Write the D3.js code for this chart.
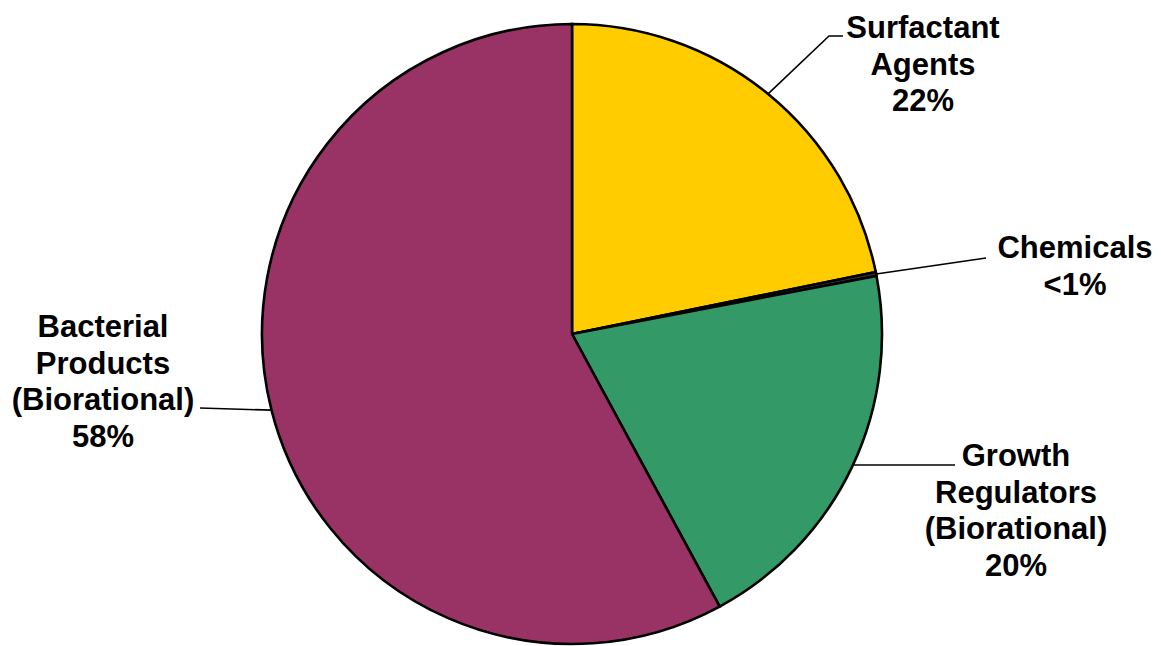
<!DOCTYPE html>
<html>
<head>
<meta charset="utf-8">
<script src="https://cdn.jsdelivr.net/npm/d3@7"></script>
<style>
  html, body { margin: 0; padding: 0; background: #fff; }
  svg { display: block; }
  text { font-family: "Liberation Sans", Arial, sans-serif; font-weight: bold; fill: #000; }
</style>
</head>
<body>
<svg id="chart" width="1161" height="646"></svg>
<script>
// Data
const categories = ["Surfactant Agents", "Chemicals", "Growth Regulators (Biorational)", "Bacterial Products (Biorational)"];
const values = [21.8, 0.2, 20.1, 57.9];
const labelLines = [
  ["Surfactant", "Agents", "22%"],
  ["Chemicals", "<1%"],
  ["Growth", "Regulators", "(Biorational)", "20%"],
  ["Bacterial", "Products", "(Biorational)", "58%"]
];
const colors = ["#FFCC00", "#333333", "#339966", "#993366"];

// Layout
const W = 1161, H = 646;
const cx = 572, cy = 334, R = 310;
const fontSize = 31, lineH = 36.6;
const labelLayout = [
  { x: 923, y: 38, leader: (p) => [p, [829, 36], [843, 36]] },
  { x: 1075, y: 258, leader: (p) => [p, [986, 258]] },
  { x: 1016, y: 466, leader: (p) => [[p[0], 465], [955, 465]] },
  { x: 103, y: 337, leader: (p) => [p, [200, 408]] }
];

const svg = d3.select("#chart");
const g = svg.append("g").attr("transform", `translate(${cx},${cy})`);

const pie = d3.pie().sort(null).value(d => d)(values);
const arc = d3.arc().innerRadius(0).outerRadius(R);

g.selectAll("path.slice")
  .data(pie)
  .join("path")
  .attr("class", "slice")
  .attr("d", arc)
  .attr("fill", (d, i) => colors[i])
  .attr("stroke", "#000")
  .attr("stroke-width", 2.6)
  .attr("stroke-linejoin", "miter");

// Leader lines
const line = d3.line();
pie.forEach((d, i) => {
  const a = (d.startAngle + d.endAngle) / 2;
  const p = [cx + R * Math.sin(a), cy - R * Math.cos(a)];
  const pts = labelLayout[i].leader(p);
  svg.append("path")
    .attr("d", line(pts))
    .attr("fill", "none")
    .attr("stroke", "#000")
    .attr("stroke-width", 1.6);
});

// Labels
labelLines.forEach((lines, i) => {
  const L = labelLayout[i];
  const t = svg.append("text")
    .attr("text-anchor", "middle")
    .attr("font-size", fontSize);
  lines.forEach((s, j) => {
    t.append("tspan").attr("x", L.x).attr("y", L.y + j * lineH).text(s);
  });
});
</script>
</body>
</html>
